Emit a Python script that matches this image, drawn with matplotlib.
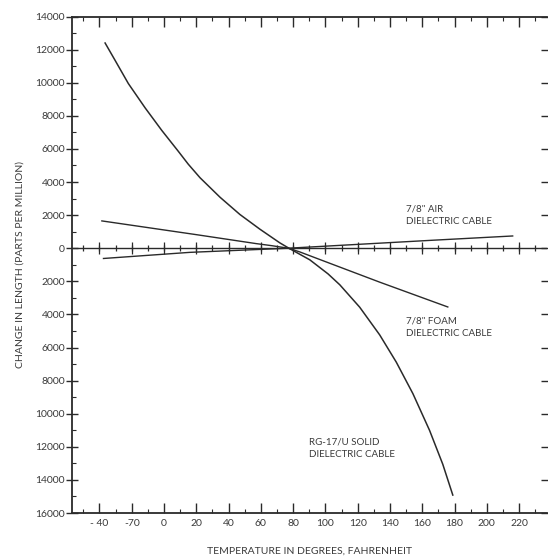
import matplotlib
matplotlib.use("Agg")
import matplotlib.pyplot as plt
import numpy as np

# ---- data ----
solid_temp = [-36.5, -30.3, -22.1, -11.7, -1.4, 8.9, 15, 22.3, 34.7, 47, 59.4, 71.8, 77.9,
              90.3, 101.6, 108.9, 121.2, 133.6, 143.9, 154.2, 164.5, 172.7, 178.9]
solid_ppm = [12400, 11350, 9950, 8480, 7120, 5850, 5080, 4260, 3080, 2040, 1150, 320, -30,
             -700, -1550, -2210, -3560, -5235, -6885, -8790, -11005, -13055, -14915]

foam_temp = [-38.5, 20, 57, 67, 77, 84, 101.6, 133.6, 175.8]
foam_ppm = [1650, 820, 280, 150, 0, -220, -870, -2050, -3550]

air_temp = [-37.5, 16, 77, 166, 216]
air_ppm = [-620, -250, 0, 480, 740]

x_ticks = [-40, -20, 0, 20, 40, 60, 80, 100, 120, 140, 160, 180, 200, 220]
x_labels = ["- 40", "-70", "0", "20", "40", "60", "80", "100", "120", "140", "160", "180", "200", "220"]
y_ticks = [14000, 12000, 10000, 8000, 6000, 4000, 2000, 0, -2000, -4000, -6000, -8000, -10000, -12000, -14000, -16000]
y_labels = ["14000", "12000", "10000", "8000", "6000", "4000", "2000", "0", "2000", "4000", "6000", "8000", "10000", "12000", "14000", "16000"]

ink = "#2a2a2a"
txt = "#3a3a3a"
plt.rcParams["font.family"] = ["Lato", "DejaVu Sans"]

fig = plt.figure(figsize=(5.48, 5.6), dpi=100)
ax = fig.add_axes([0.1314, 0.0839, 0.866, 0.8866])

ax.plot(solid_temp, solid_ppm, color=ink, lw=1.1)
ax.plot(foam_temp, foam_ppm, color=ink, lw=1.0)
ax.plot(air_temp, air_ppm, color=ink, lw=1.0)

ax.set_xlim(-57, 237)
ax.set_ylim(-16000, 14000)

# zero line with cross ticks
ax.axhline(0, color=ink, lw=1.0)
minor_x = np.arange(-50, 231, 10)
ax.plot(minor_x, np.zeros_like(minor_x), ls="", marker="|", ms=5, color=ink, mew=0.9)
ax.plot(x_ticks, np.zeros(len(x_ticks)), ls="", marker="|", ms=9, color=ink, mew=0.9)

ax.set_xticks(x_ticks)
ax.set_xticklabels(x_labels)
ax.set_xticks(minor_x, minor=True)
ax.set_yticks(y_ticks)
ax.set_yticklabels(y_labels)
ax.set_yticks(np.arange(-16000, 14001, 1000), minor=True)

ax.tick_params(axis="x", which="major", direction="in", length=7, width=1.0, top=True, color=ink,
               labelsize=7.5, labelcolor=txt, pad=4)
ax.tick_params(axis="x", which="minor", direction="in", length=3, width=0.8, top=True, color=ink)
ax.tick_params(axis="y", which="major", direction="inout", length=8, width=1.0, right=True, color=ink,
               labelsize=7.5, labelcolor=txt, pad=1)
ax.tick_params(axis="y", which="minor", direction="in", length=3, width=0.8, color=ink)

for s in ["left", "bottom", "top"]:
    ax.spines[s].set_color(ink)
    ax.spines[s].set_linewidth(1.3)
ax.spines["right"].set_visible(False)

ax.set_xlabel("TEMPERATURE IN DEGREES, FAHRENHEIT", fontsize=7.5, color=txt, labelpad=14)
ax.set_ylabel("CHANGE IN LENGTH (PARTS PER MILLION)", fontsize=7.5, color=txt, labelpad=8)

ax.text(150, 2000, '7/8" AIR\nDIELECTRIC CABLE', fontsize=7, color=txt, linespacing=1.5, va="center")
ax.text(150, -4750, '7/8" FOAM\nDIELECTRIC CABLE', fontsize=7, color=txt, linespacing=1.5, va="center")
ax.text(90, -12100, 'RG-17/U SOLID\nDIELECTRIC CABLE', fontsize=7, color=txt, linespacing=1.5, va="center")

fig.savefig("out.png", dpi=100)
